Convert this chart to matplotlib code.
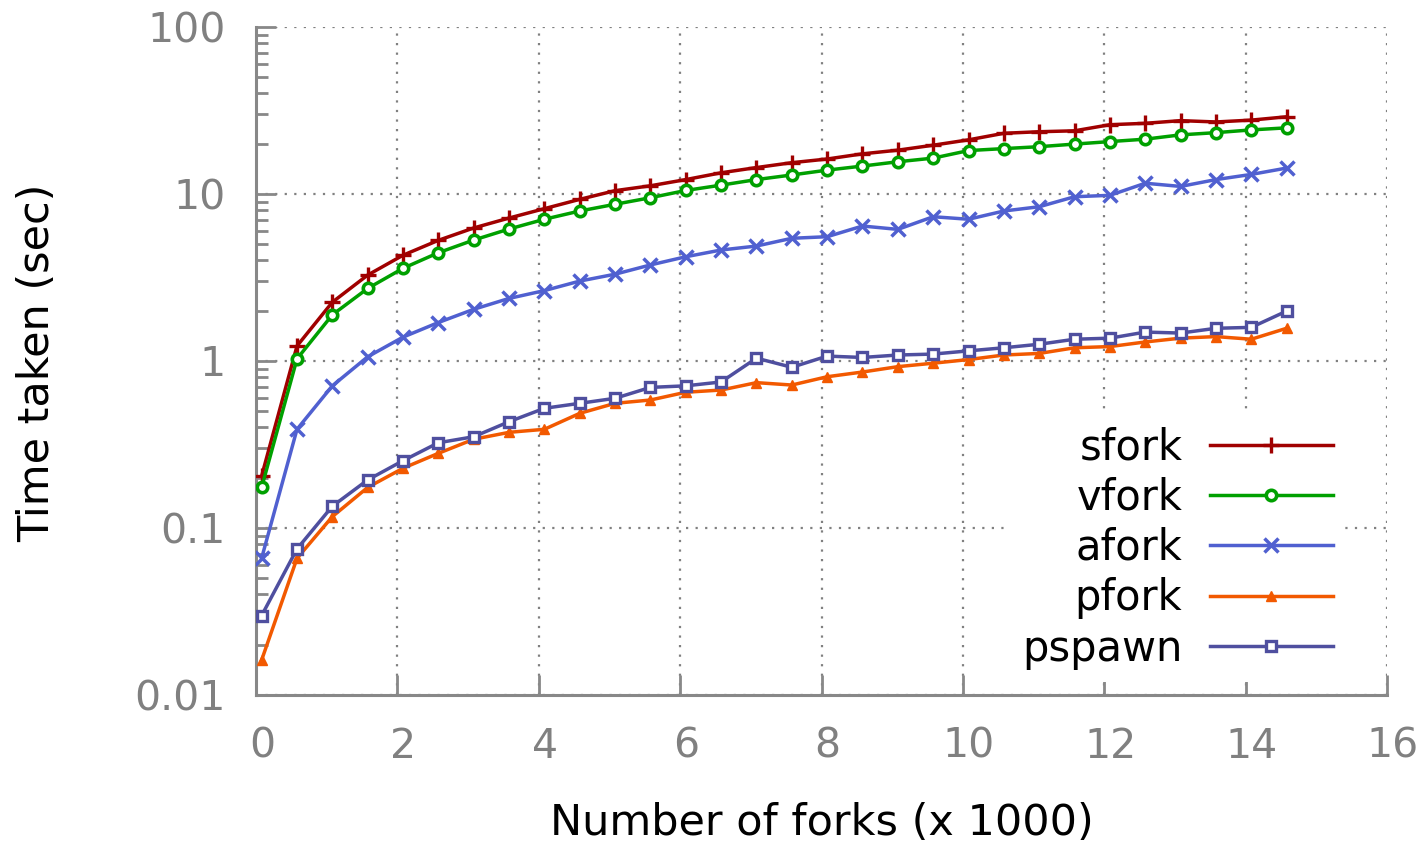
import matplotlib
matplotlib.use("Agg")
import matplotlib.pyplot as plt
import matplotlib.transforms as mtransforms
from matplotlib.ticker import FixedLocator, FixedFormatter, LogLocator, NullFormatter

# ---- data ----
forks_k = [0.08, 0.58, 1.08, 1.58, 2.08, 2.58, 3.08, 3.58, 4.08, 4.58,
           5.08, 5.58, 6.08, 6.58, 7.08, 7.58, 8.08, 8.58, 9.08, 9.58,
           10.08, 10.58, 11.08, 11.58, 12.08, 12.58, 13.08, 13.58, 14.08, 14.58]

sfork = [0.205, 1.23, 2.25, 3.27, 4.30, 5.28, 6.26, 7.18, 8.17, 9.29,
         10.47, 11.2, 12.2, 13.4, 14.4, 15.4, 16.2, 17.4, 18.3, 19.6,
         21.1, 23.1, 23.6, 23.9, 26.0, 26.5, 27.5, 27.0, 27.7, 29.0]
vfork = [0.175, 1.03, 1.89, 2.72, 3.59, 4.45, 5.30, 6.17, 7.06, 7.91,
         8.68, 9.5, 10.5, 11.3, 12.2, 13.0, 13.9, 14.7, 15.6, 16.4,
         18.2, 18.7, 19.2, 19.9, 20.6, 21.3, 22.6, 23.3, 24.2, 24.9]
afork = [0.066, 0.39, 0.71, 1.06, 1.39, 1.70, 2.04, 2.37, 2.64, 3.01,
         3.31, 3.76, 4.21, 4.62, 4.88, 5.43, 5.55, 6.43, 6.14, 7.31,
         7.06, 7.91, 8.39, 9.63, 9.82, 11.6, 11.1, 12.2, 13.1, 14.3]
pfork = [0.0162, 0.0658, 0.117, 0.175, 0.228, 0.280, 0.34, 0.374, 0.39, 0.486,
         0.558, 0.584, 0.65, 0.67, 0.742, 0.718, 0.805, 0.859, 0.925, 0.97,
         1.02, 1.086, 1.11, 1.20, 1.22, 1.30, 1.37, 1.40, 1.35, 1.57]
pspawn = [0.0299, 0.0749, 0.135, 0.194, 0.253, 0.324, 0.352, 0.433, 0.521, 0.558,
          0.598, 0.695, 0.71, 0.749, 1.04, 0.917, 1.07, 1.05, 1.086, 1.10,
          1.15, 1.20, 1.26, 1.35, 1.37, 1.49, 1.47, 1.57, 1.59, 1.99]

series_names = ["sfork", "vfork", "afork", "pfork", "pspawn"]
series_values = [sfork, vfork, afork, pfork, pspawn]
colors = ["#a00000", "#00a000", "#5060d0", "#f25900", "#4f4f9f"]

x_ticks = [0, 2, 4, 6, 8, 10, 12, 14, 16]
x_tick_labels = ["0", "2", "4", "6", "8", "10", "12", "14", "16"]
y_ticks = [0.01, 0.1, 1, 10, 100]
y_tick_labels = ["0.01", "0.1", "1", "10", "100"]

# ---- figure ----
W, H, DPI = 1426, 843, 100
fig = plt.figure(figsize=(W / DPI, H / DPI), dpi=DPI)
ax = fig.add_axes([256 / W, 1 - 695 / H, (1387 - 256) / W, (695 - 27) / H])

GRAY = "#888888"

marker_styles = [
    dict(marker="+", markersize=12, markeredgewidth=2.4),
    dict(marker="o", markersize=7.5, markeredgewidth=2.6, markerfacecolor="white"),
    dict(marker="x", markersize=9.5, markeredgewidth=2.5),
    dict(marker="^", markersize=7.5, markeredgewidth=1.0),
    dict(marker="s", markersize=7.5, markeredgewidth=2.4, markerfacecolor="white"),
]

for name, vals, col, ms in zip(series_names, series_values, colors, marker_styles):
    ax.plot(forks_k, vals, color=col, linewidth=2.5, label=name,
            markeredgecolor=col, zorder=3, **ms)

ax.set_yscale("log")
ax.set_xlim(0, 16)
ax.set_ylim(0.01, 100)

ax.xaxis.set_major_locator(FixedLocator(x_ticks))
ax.xaxis.set_major_formatter(FixedFormatter(x_tick_labels))
ax.yaxis.set_major_locator(FixedLocator(y_ticks))
ax.yaxis.set_major_formatter(FixedFormatter(y_tick_labels))
ax.yaxis.set_minor_locator(LogLocator(base=10, subs=range(2, 10), numticks=20))
ax.yaxis.set_minor_formatter(NullFormatter())

for side in ["top", "right"]:
    ax.spines[side].set_visible(False)
for side in ["left", "bottom"]:
    ax.spines[side].set_color(GRAY)
    ax.spines[side].set_linewidth(2.2)

ax.tick_params(axis="both", which="major", direction="in", length=14.5, width=2.0,
               color=GRAY, labelcolor="#808080", labelsize=29.5)
ax.tick_params(axis="x", which="major", pad=23)
ax.tick_params(axis="y", which="major", pad=22)
ax.tick_params(axis="y", which="minor", direction="in", length=8.5, width=2.0, color=GRAY)

# shift x tick labels slightly right (as in reference)
offset = mtransforms.ScaledTranslation(6 / DPI, 0, fig.dpi_scale_trans)
for lbl in ax.get_xticklabels():
    lbl.set_transform(lbl.get_transform() + offset)

ax.grid(True, which="major", color="#808080", linestyle=(0, (1, 3.3)), linewidth=1.6)
ax.set_axisbelow(True)

ax.set_xlabel("Number of forks (x 1000)", fontsize=31, color="black")
ax.set_ylabel("Time taken (sec)", fontsize=31, color="black")
ax.xaxis.set_label_coords(0.5, (695 - 802) / 668)
ax.yaxis.set_label_coords((58 - 256) / 1131, (695 - 363) / 668)

leg = ax.legend(loc="lower right", bbox_to_anchor=(1345 / W, 1 - 682 / H),
                bbox_transform=fig.transFigure, fontsize=30, markerfirst=False,
                numpoints=1, handlelength=2.93, handletextpad=0.67,
                labelspacing=0.2, borderpad=0.3, borderaxespad=0,
                frameon=True, fancybox=False, framealpha=1.0,
                facecolor="white", edgecolor="none")
leg.set_zorder(5)

fig.savefig("out.png", dpi=DPI, facecolor="white")
